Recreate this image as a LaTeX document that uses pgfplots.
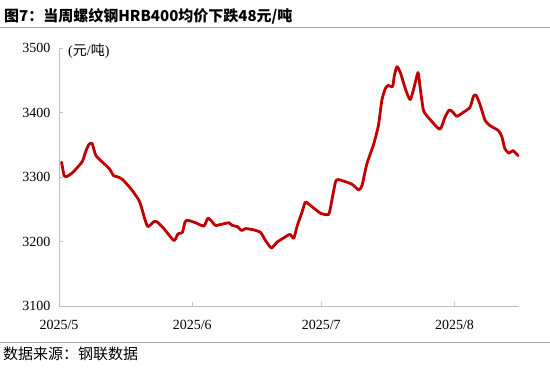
\documentclass[border=0pt]{standalone}
\usepackage{fontspec}
\setmainfont{Liberation Serif}
\newfontfamily\cjk{Noto Sans CJK SC}
\usepackage{pgfplots}
\pgfplotsset{compat=1.18}
\definecolor{linered}{HTML}{C00000}
\definecolor{axgray}{HTML}{BFBFBF}
\definecolor{sepgray}{HTML}{A6A6A6}
\pgfplotstableread{
d v
0.6 3323
1.2 3302
1.9 3301
3.2 3307
4.7 3318
5.5 3325
6.3 3341
7.0 3351
7.7 3352
8.2 3341
8.6 3333
10.1 3323
11.7 3313
12.7 3302
13.8 3300
14.8 3296
16.7 3282
18.6 3264
19.4 3248
20.0 3234
20.7 3223
22.1 3231
22.9 3230
24.4 3220
26.6 3202
27.1 3204
27.7 3212
28.7 3214
29.3 3230
29.9 3233
31.8 3229
33.7 3224
34.6 3236
35.3 3233
36.4 3225
38.0 3227
39.5 3229
40.3 3225
41.5 3223
42.5 3217
43.4 3220
45.3 3218
46.9 3214
48.0 3202
49.4 3190
50.7 3199
51.9 3204
53.7 3211
54.6 3205
55.4 3224
56.5 3245
57.3 3261
58.1 3258
60.8 3244
62.7 3242
63.3 3258
64.3 3292
65.0 3296
68.1 3289
69.7 3280
70.5 3287
71.6 3320
73.2 3351
74.3 3380
75.1 3419
75.9 3437
76.6 3442
77.6 3440
78.0 3457
78.6 3471
79.4 3462
80.7 3434
81.7 3420
82.6 3439
83.5 3462
84.0 3439
84.8 3403
86.2 3390
88.6 3374
89.8 3393
90.8 3404
91.7 3400
92.5 3394
94.0 3400
95.6 3408
96.4 3425
97.0 3427
97.9 3413
99.1 3388
100.2 3380
102.2 3372
103.0 3363
103.7 3344
104.7 3337
105.6 3341
106.8 3333
}\pricedata
\begin{document}
\begin{tikzpicture}
\path[use as bounding box] (0pt,0pt) rectangle (550pt,372pt);
\draw[sepgray, line width=1pt] (0pt,344pt) -- (550pt,344pt);
\draw[sepgray, line width=1pt] (0pt,29pt) -- (550pt,29pt);
\node[anchor=west, inner sep=0pt, font=\cjk\fontsize{15}{18}\selectfont\bfseries] at (4pt,356pt) {图7：当周螺纹钢HRB400均价下跌48元/吨};
\node[anchor=west, inner sep=0pt, font=\cjk\fontsize{15}{18}\selectfont] at (3pt,18pt) {数据来源：钢联数据};
\begin{axis}[
  at={(59pt,66pt)}, anchor=south west,
  width=460pt, height=258pt, scale only axis,
  xmin=0, xmax=107, ymin=3100, ymax=3500,
  axis x line=bottom, axis y line=left,
  axis line style={axgray, line width=0.8pt, -},
  tick style={axgray, line width=0.8pt},
  tick align=inside, major tick length=4pt,
  xtick={0,31,61,92},
  xticklabels={2025/5,2025/6,2025/7,2025/8},
  ytick={3100,3200,3300,3400,3500},
  tick label style={font=\fontsize{14}{16}\selectfont, text=black},
  xticklabel style={yshift=-11pt},
  yticklabel style={xshift=-5pt},
  /pgf/number format/assume math mode=true,
  /pgf/number format/1000 sep={},
  clip=false,
]
\addplot[linered, line width=2.8pt, smooth, tension=0.35, line join=round, line cap=round] table[x=d, y=v] {\pricedata};
\end{axis}
\node[anchor=west, inner sep=0pt, font=\fontsize{14}{16}\selectfont] at (68pt,321pt) {(\cjk 元\rmfamily/\cjk 吨\rmfamily)};
\end{tikzpicture}
\end{document}
